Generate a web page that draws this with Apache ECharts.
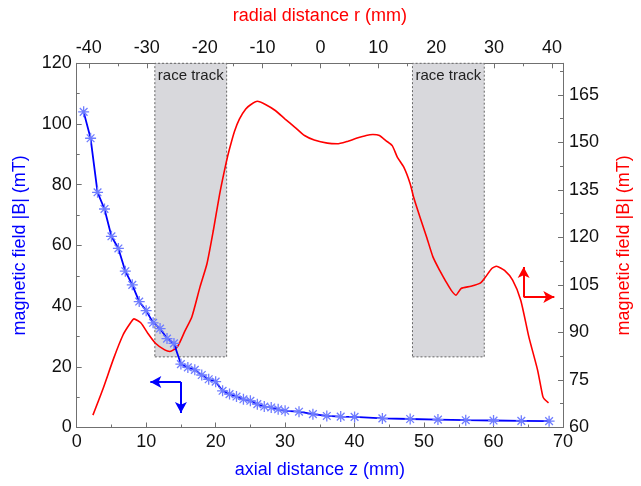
<!DOCTYPE html>
<html>
<head>
<meta charset="utf-8">
<script src="https://cdn.jsdelivr.net/npm/echarts@6/dist/echarts.min.js"></script>
<style>
  html, body { margin: 0; padding: 0; background: #fff; }
  #chart { width: 641px; height: 486px; }
</style>
</head>
<body>
<div id="chart"></div>
<script>
// Axial field profile (bottom z axis, left |B| axis)
const zAxial = [1, 2, 3, 4, 5, 6, 7, 8, 9, 10, 11, 12, 13, 14, 15, 16, 17, 18, 19, 20,
  21, 22, 23, 24, 25, 26, 27, 28, 29, 30, 32, 34, 36, 38, 40, 44, 48, 52, 56, 60, 64, 68];
const bAxial = [104, 95.3, 77.5, 72, 63, 59, 51.5, 47, 41.5, 38.5, 34.5, 32.6, 29.3, 27.7, 20.9,
  19.8, 19.0, 17.3, 15.9, 15.1, 12.1, 11.0, 10.2, 9.3, 8.8, 7.7, 6.9, 6.6, 6.0, 5.5,
  5.2, 4.4, 3.8, 3.6, 3.5, 3.0, 2.8, 2.6, 2.4, 2.3, 2.2, 2.1];

// Radial field profile (top r axis, right |B| axis)
const rRadial = [-39.3, -37.6, -35.7, -34.1, -33.0, -32.2, -31.0, -29.8, -28.5, -26.9, -26.0,
  -24.7, -23.4, -22.2, -20.8, -19.6, -18.5, -17.4, -16.3, -15.7, -14.85, -14.0, -12.9, -12.0,
  -10.9, -9.5, -7.8, -6.1, -4.4, -2.75, -1.07, 1.2, 2.9, 4.55, 6.2, 7.9, 9.06, 10.2, 11.3,
  12.4, 13.3, 14.4, 15.5, 16.1, 17.2, 18.35, 19.45, 20.6, 21.7, 22.6, 23.4, 24.3, 26.0, 27.6,
  28.5, 29.6, 30.4, 31.8, 33.2, 34.6, 36.0, 37.5, 38.4, 38.7, 39.4];
const bRadial = [63.9, 72, 81.9, 89.2, 92.5, 94.3, 93.0, 89.7, 86.6, 84.5, 84.0,
  85.5, 90.5, 95, 104.4, 111.7, 122.2, 133.8, 143.5, 148, 153.5, 157.4, 160.6, 162.0,
  163.0, 162, 160.1, 157.4, 154.8, 152.2, 150.8, 149.8, 149.6, 150.3, 151.3, 152.2, 152.5, 152.2, 150.6,
  149, 145.3, 142.2, 137, 132.7, 126.4, 120.1, 113.8, 109.6, 106, 103.3, 101.8, 103.9, 104.6, 105.6,
  107.5, 110.2, 110.9, 109.6, 106.5, 100.2, 88.6, 78.2, 69.9, 68.9, 67.8];

// Race-track magnet positions along r, and the lower edge of the shaded band (right axis units)
const raceTracks = [[-28.6, -16.2], [15.9, 28.3]];
const raceTrackFloor = 82.3;
const raceTrackLabel = 'race track';

// Axis ranges
const zRange = [0, 70];
const rRange = [-42.1, 41.9];
const leftRange = [0, 120];
const rightRange = [60, 175];

const FONT = 'Liberation Sans, Arial, sans-serif';
const BLUE = '#0000ff';
const RED = '#ff0000';
const AXIS_GREY = '#707070';

function pair(xs, ys) { return xs.map((x, i) => [x, ys[i]]); }

const baseAxis = {
  axisLine: { show: true, onZero: false, lineStyle: { color: AXIS_GREY, width: 1 } },
  axisTick: { show: true, inside: true, length: 5, lineStyle: { color: AXIS_GREY } },
  minorTick: { show: true, splitNumber: 2, length: 3, lineStyle: { color: AXIS_GREY } },
  splitLine: { show: false },
  axisLabel: { color: '#111', fontSize: 18, fontFamily: FONT },
  nameTextStyle: { fontSize: 18, fontFamily: FONT }
};

// Asterisk marker drawn as stroked segments
const asterisk = 'path://M5 0L5 10M0 5L10 5M1.5 1.5L8.5 8.5M1.5 8.5L8.5 1.5';

const chart = echarts.init(document.getElementById('chart'), null, { renderer: 'canvas' });

chart.setOption({
  animation: false,
  backgroundColor: '#fff',
  grid: { left: 76.7, right: 66.7, top: 63.3, bottom: 58.5, containLabel: false },
  xAxis: [
    Object.assign({}, baseAxis, {
      type: 'value', position: 'bottom', min: zRange[0], max: zRange[1], interval: 10,
      name: 'axial distance z (mm)', nameLocation: 'middle', nameGap: 34,
      nameTextStyle: Object.assign({}, baseAxis.nameTextStyle, { color: BLUE }),
      axisLabel: Object.assign({}, baseAxis.axisLabel, { margin: 6 })
    }),
    Object.assign({}, baseAxis, {
      type: 'value', position: 'top', min: rRange[0], max: rRange[1], splitNumber: 8,
      name: 'radial distance r (mm)', nameLocation: 'middle', nameGap: 38,
      nameTextStyle: Object.assign({}, baseAxis.nameTextStyle, { color: RED }),
      axisLabel: Object.assign({}, baseAxis.axisLabel, { margin: 6, showMinLabel: false, showMaxLabel: false })
    })
  ],
  yAxis: [
    Object.assign({}, baseAxis, {
      type: 'value', position: 'left', min: leftRange[0], max: leftRange[1], interval: 20,
      name: 'magnetic field |B| (mT)', nameLocation: 'middle', nameGap: 48,
      nameTextStyle: Object.assign({}, baseAxis.nameTextStyle, { color: BLUE }),
      axisLabel: Object.assign({}, baseAxis.axisLabel, { margin: 5 })
    }),
    Object.assign({}, baseAxis, {
      type: 'value', position: 'right', min: rightRange[0], max: rightRange[1], interval: 15,
      name: 'magnetic field |B| (mT)', nameLocation: 'middle', nameGap: 52,
      nameTextStyle: Object.assign({}, baseAxis.nameTextStyle, { color: RED }),
      axisLabel: Object.assign({}, baseAxis.axisLabel, { margin: 6, showMaxLabel: false })
    })
  ],
  series: [
    {
      name: 'race tracks', type: 'line', xAxisIndex: 1, yAxisIndex: 1, data: [], z: 1, silent: true,
      markArea: {
        silent: true,
        itemStyle: { color: '#d8d8dc', borderColor: '#666', borderWidth: 1, borderType: [2, 2] },
        label: { show: true, position: 'insideTop', distance: 6, color: '#222', fontSize: 15, fontFamily: FONT },
        data: raceTracks.map(([a, b]) => [
          { name: raceTrackLabel, coord: [a, raceTrackFloor] },
          { coord: [b, rightRange[1]] }
        ])
      }
    },
    {
      name: 'radial', type: 'line', xAxisIndex: 1, yAxisIndex: 1, z: 2,
      data: pair(rRadial, bRadial), showSymbol: false, smooth: 0.2,
      lineStyle: { color: RED, width: 1.6 },
      markLine: {
        silent: true, symbol: ['none', 'arrow'], symbolSize: [9, 11],
        lineStyle: { color: RED, width: 2, type: 'solid' }, label: { show: false },
        data: [
          [{ coord: [35.1, 101.2] }, { coord: [35.1, 110.7] }],
          [{ coord: [35.1, 101.2] }, { coord: [40.4, 101.2] }]
        ]
      }
    },
    {
      name: 'axial', type: 'line', xAxisIndex: 0, yAxisIndex: 0, z: 3,
      data: pair(zAxial, bAxial), symbol: asterisk, symbolSize: 11,
      itemStyle: { color: 'rgba(0,0,0,0)', borderColor: '#6f7dff', borderWidth: 1.3 },
      lineStyle: { color: BLUE, width: 1.8 },
      markLine: {
        silent: true, symbol: ['none', 'arrow'], symbolSize: [9, 11],
        lineStyle: { color: BLUE, width: 2, type: 'solid' }, label: { show: false },
        data: [
          [{ coord: [15, 15] }, { coord: [10.6, 15] }],
          [{ coord: [15, 15] }, { coord: [15, 4.8] }]
        ]
      }
    }
  ]
});
</script>
</body>
</html>
